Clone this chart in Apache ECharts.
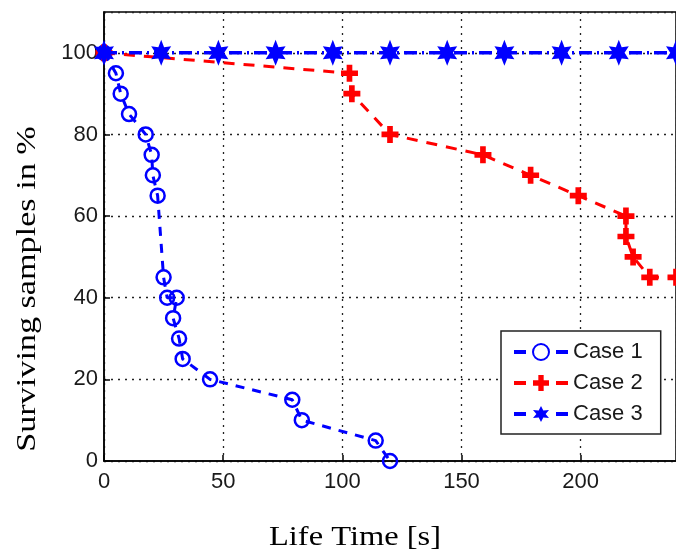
<!DOCTYPE html>
<html>
<head>
<meta charset="utf-8">
<script src="https://cdn.jsdelivr.net/npm/echarts@6/dist/echarts.min.js"></script>
<style>
  html, body { margin: 0; padding: 0; background: #fff; }
  #chart { width: 676px; height: 557px; }
</style>
</head>
<body>
<div id="chart"></div>
<script>
// data
var case1X = [0, 5, 7, 10.5, 17.5, 20, 20.5, 22.5, 25, 26.5, 30.5, 29, 31.5, 33, 44.5, 79, 83, 114, 120];
var case1Y = [100, 95, 90, 85, 80, 75, 70, 65, 45, 40, 40, 35, 30, 25, 20, 15, 10, 5, 0];
var case2X = [0, 103, 104, 120, 159, 179, 199, 219, 219, 222, 229, 240];
var case2Y = [100, 95, 90, 80, 75, 70, 65, 60, 55, 50, 45, 45];
var case3X = [0, 24, 48, 72, 96, 120, 144, 168, 192, 216, 240];
var case3Y = [100, 100, 100, 100, 100, 100, 100, 100, 100, 100, 100];
var xTicks = [0, 50, 100, 150, 200];
var yTicks = [0, 20, 40, 60, 80, 100];
var seriesNames = ['Case 1', 'Case 2', 'Case 3'];

function pairs(xs, ys) {
    return xs.map(function (x, i) { return [x, ys[i]]; });
}

// hexagram marker (matlab 'h')
function hexagram() {
    var pts = [];
    for (var k = 0; k < 12; k++) {
        var a = -Math.PI / 2 + k * Math.PI / 6;
        var r = k % 2 === 0 ? 1 : 0.5;
        pts.push((r * Math.cos(a)).toFixed(3) + ',' + (r * Math.sin(a)).toFixed(3));
    }
    return 'path://M' + pts.join(' L') + ' Z';
}
var plusPath = 'path://M-1,-3 L1,-3 L1,-1 L3,-1 L3,1 L1,1 L1,3 L-1,3 L-1,1 L-3,1 L-3,-1 L-1,-1 Z';

var myChart = echarts.init(document.getElementById('chart'));

var gridLine = { show: true, lineStyle: { color: '#222', width: 1.3, type: [2, 5] } };

var option = {
    animation: false,
    backgroundColor: '#fff',
    grid: {
        left: 104, right: -1, top: 12, bottom: 96,
        show: true, borderColor: '#000', borderWidth: 1.5
    },
    xAxis: {
        type: 'value', min: 0, max: 240, interval: 50,
        axisLine: { show: true, lineStyle: { color: '#000', width: 1.5 } },
        axisTick: { show: true, inside: true, length: 6, lineStyle: { color: '#000', width: 1.5 } },
        axisLabel: {
            showMaxLabel: false, margin: 10, color: '#1a1a1a',
            fontFamily: 'Arial, Liberation Sans', fontSize: 22,
            formatter: function (v) { return xTicks.indexOf(v) >= 0 ? String(v) : ''; }
        },
        splitLine: gridLine
    },
    yAxis: {
        type: 'value', min: 0, max: 110, interval: 20,
        axisLine: { show: true, lineStyle: { color: '#000', width: 1.5 } },
        axisTick: { show: true, inside: true, length: 6, lineStyle: { color: '#000', width: 1.5 } },
        axisLabel: {
            showMaxLabel: false, margin: 6, color: '#1a1a1a',
            fontFamily: 'Arial, Liberation Sans', fontSize: 22,
            formatter: function (v) { return yTicks.indexOf(v) >= 0 ? String(v) : ''; }
        },
        splitLine: gridLine
    },
    legend: {
        orient: 'vertical', left: 501, top: 331,
        backgroundColor: '#fff', borderColor: '#222', borderWidth: 1.5,
        padding: [10, 18, 9, 11], itemWidth: 54, itemHeight: 20, itemGap: 9,
        lineStyle: { width: 4, type: [12, 30] },
        textStyle: { fontFamily: 'Arial, Liberation Sans', fontSize: 22, color: '#1a1a1a' },
        data: seriesNames
    },
    series: [
        {
            name: seriesNames[0], type: 'line', clip: false, z: 3,
            data: pairs(case1X, case1Y),
            symbol: 'circle', symbolSize: 14,
            lineStyle: { color: '#0000ff', width: 3, type: [9, 8] },
            itemStyle: { color: 'rgba(255,255,255,0)', borderColor: '#0000ff', borderWidth: 2.5 }
        },
        {
            name: seriesNames[1], type: 'line', clip: false, z: 4,
            data: pairs(case2X, case2Y),
            symbol: plusPath, symbolSize: 17,
            lineStyle: { color: '#ff0000', width: 3, type: [11, 9] },
            itemStyle: { color: '#ff0000' }
        },
        {
            name: seriesNames[2], type: 'line', clip: false, z: 5,
            data: pairs(case3X, case3Y),
            symbol: hexagram(), symbolSize: [20, 26],
            lineStyle: { color: '#0000ff', width: 3.5, type: [13, 5, 2, 5] },
            itemStyle: { color: '#0000ff' }
        }
    ],
    graphic: [
        {
            type: 'text', x: 28, y: 289, rotation: Math.PI / 2, scaleX: 1.22,
            style: {
                text: 'Surviving samples in %', fill: '#000',
                font: '28px "Liberation Serif", "Times New Roman", serif',
                textAlign: 'center', textVerticalAlign: 'middle'
            }
        },
        {
            type: 'text', x: 355, y: 538, scaleX: 1.16,
            style: {
                text: 'Life Time [s]', fill: '#000',
                font: '28px "Liberation Serif", "Times New Roman", serif',
                textAlign: 'center', textVerticalAlign: 'middle'
            }
        }
    ]
};

myChart.setOption(option);
</script>
</body>
</html>
